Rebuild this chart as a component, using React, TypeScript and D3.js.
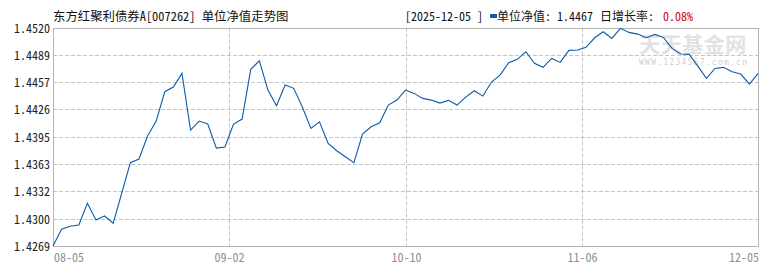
import React from "react";
import * as d3 from "d3";

const dates: string[] = [
  "08-05","08-06","08-07","08-08","08-11","08-12","08-13","08-14","08-15",
  "08-18","08-19","08-20","08-21","08-22","08-25","08-26","08-27","08-28","08-29",
  "09-01","09-02","09-03","09-04","09-05","09-08","09-09","09-10","09-11","09-12",
  "09-15","09-16","09-17","09-18","09-19","09-22","09-23","09-24","09-25","09-26",
  "09-29","09-30","10-09","10-10","10-13","10-14","10-15","10-16","10-17",
  "10-20","10-21","10-22","10-23","10-24","10-27","10-28","10-29","10-30","10-31",
  "11-03","11-04","11-05","11-06","11-07","11-10","11-11","11-12","11-13","11-14",
  "11-17","11-18","11-19","11-20","11-21","11-24","11-25","11-26","11-27","11-28",
  "12-01","12-02","12-03","12-04","12-05"
];

const navValues: number[] = [
  1.4269, 1.42882, 1.42916, 1.42931, 1.43180, 1.42989, 1.43035, 1.42951, 1.43299,
  1.43647, 1.43689, 1.43953, 1.44125, 1.44462, 1.44516, 1.44673, 1.44022, 1.44125, 1.44091,
  1.43815, 1.43827, 1.44091, 1.44148, 1.44719, 1.44818, 1.44481, 1.44301, 1.44539, 1.44501,
  1.44286, 1.44041, 1.44117, 1.43869, 1.43784, 1.43715, 1.43647, 1.43976, 1.44060, 1.44106,
  1.44309, 1.44366, 1.44481, 1.44443, 1.44386, 1.44366, 1.44332, 1.44363, 1.44309,
  1.44401, 1.44473, 1.44412, 1.44573, 1.44653, 1.44795, 1.44834, 1.44921, 1.44788, 1.44742,
  1.44845, 1.44799, 1.44937, 1.44941, 1.44972, 1.45082, 1.45151, 1.45075, 1.45190, 1.45144,
  1.45124, 1.45082, 1.45121, 1.45086, 1.44960, 1.44895, 1.44891, 1.44757, 1.44616, 1.44730,
  1.44742, 1.44691, 1.44665, 1.44550, 1.4467
];

const yTickLabels: string[] = ["1.4269","1.4300","1.4332","1.4363","1.4395","1.4426","1.4457","1.4489","1.4520"];
const xTickLabels: string[] = ["08-05","09-02","10-10","11-06","12-05"];

const title = "东方红聚利债券A[007262] 单位净值走势图";
const headerDate = "[2025-12-05 ]";
const headerNavLabel = "单位净值: 1.4467";
const headerRateLabel = "日增长率: ";
const headerRate = "0.08%";

const W = 770, H = 270;
const L = 53, R = 758, T = 27.5, B = 246;
const yMin = 1.4269, yMax = 1.4520;
const MONO = "'Noto Sans Mono CJK SC', 'DejaVu Sans Mono', monospace";
const CJK = "'Noto Sans Mono CJK SC', 'Noto Sans CJK SC', sans-serif";

export default function App() {
  const n = navValues.length;
  const x = d3.scaleLinear().domain([0, n - 1]).range([L, R]);
  const y = d3.scaleLinear().domain([yMin, yMax]).range([B, T]);
  const line = d3.line<number>().x((_, i) => x(i)).y((d) => y(d));
  const yStep = (yMax - yMin) / (yTickLabels.length - 1);
  const xStep = (n - 1) / (xTickLabels.length - 1);
  const grid = "#c4c4c4";
  return (
    <svg width={W} height={H} style={{ position: "absolute", left: 0, top: 0, background: "#fff" }}>
      <rect x={0} y={0} width={W} height={H} fill="#fff" />
      {/* watermark */}
      <text x={693} y={52} textAnchor="middle" fontFamily="'Noto Sans CJK SC', sans-serif" fontSize={21} fontWeight="bold" fill="#e2e2e2" letterSpacing={0.5}>天天基金网</text>
      <text x={639} y={65} fontFamily="'DejaVu Sans Mono', monospace" fontSize={8} fill="#cfcfcf" textLength={108} lengthAdjust="spacing">WWW.1234567.com.cn</text>
      {/* horizontal grid */}
      {yTickLabels.map((lab, i) => {
        const yy = Math.round(y(yMin + i * yStep)) + 0.5;
        return (
          <g key={"y" + i}>
            {i > 0 && i < yTickLabels.length - 1 && (
              <line x1={L} x2={R} y1={yy} y2={yy} stroke={grid} strokeDasharray="4,2" />
            )}
            <text x={50} y={yy} dy="0.35em" textAnchor="end" fontFamily={MONO} fontSize={12} fill="#222">{lab}</text>
          </g>
        );
      })}
      {/* vertical grid + x labels */}
      {xTickLabels.map((lab, i) => {
        const xx = Math.round(x(i * xStep)) + 0.5;
        const anchor = i === 0 ? "start" : i === xTickLabels.length - 1 ? "end" : "middle";
        return (
          <g key={"x" + i}>
            {i > 0 && i < xTickLabels.length - 1 && (
              <line x1={xx} x2={xx} y1={T} y2={B} stroke={grid} strokeDasharray="4,2" />
            )}
            <text x={i === 0 ? L + 1 : i === xTickLabels.length - 1 ? R + 1 : xx} y={258} dy="0.35em" textAnchor={anchor} fontFamily={MONO} fontSize={12} fill="#909090">{lab}</text>
          </g>
        );
      })}
      {/* frame */}
      <rect x={L + 0.5} y={Math.round(T) + 0.5} width={R - L} height={Math.round(B) - Math.round(T)} fill="none" stroke="#b4b4b4" />
      {/* line */}
      <path d={line(navValues) || ""} fill="none" stroke="#0b5cab" strokeWidth={1.1} />
      {/* header */}
      <text x={53} y={21} fontFamily={CJK} fontSize={12.4} fill="#111">{title}</text>
      <text x={405} y={21} fontFamily={CJK} fontSize={12} fill="#111">{headerDate}</text>
      <rect x={490} y={14} width={7} height={4} fill="#0b5cab" />
      <text x={497} y={21} fontFamily={CJK} fontSize={12} fill="#111">{headerNavLabel}</text>
      <text x={600} y={21} fontFamily={CJK} fontSize={12} fill="#111">{headerRateLabel}</text>
      <text x={663} y={21} fontFamily={CJK} fontSize={12} fill="#d40000">{headerRate}</text>
    </svg>
  );
}
